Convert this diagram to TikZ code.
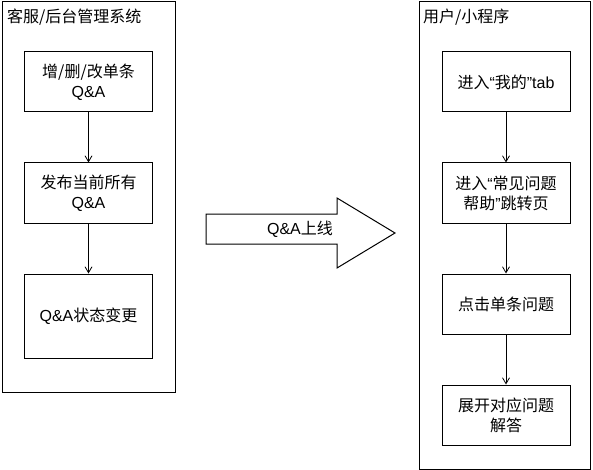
\documentclass[tikz,border=0pt]{standalone}
\usepackage{fontspec}
\setmainfont{Liberation Sans}
\newfontfamily\zhfont{Noto Sans CJK SC}
\newcommand{\zh}[1]{{\zhfont #1}}
\usetikzlibrary{arrows.meta,positioning}

\begin{document}
\begin{tikzpicture}[
    x=1pt, y=-1pt,
    every node/.style={font=\fontsize{16}{20}\selectfont},
    panel/.style={draw, line width=1pt},
    title/.style={anchor=west, inner sep=0pt},
    block/.style={draw, line width=1pt, align=center, minimum width=128pt,
                  minimum height=60pt, inner sep=2pt},
    flow/.style={draw, line width=0.8pt, -{Straight Barb[length=6pt,width=7pt,line width=0.8pt]}}
  ]
    \useasboundingbox (0,0) rectangle (593,470);

    % two panels
    \draw[panel] (2,2) rectangle (175,392);
    \draw[panel] (419,2) rectangle (590,469);
    \node[title] (admin) at (7,17) {\zh{客服/后台管理系统}};
    \node[title] (user) at (423,17) {\zh{用户/小程序}};

    % admin side
    \node[block] (edit) at (88.5,82) {\zh{增/删/改单条}\\Q\&A};
    \node[block] (publish) at (88.5,193) {\zh{发布当前所有}\\Q\&A};
    \node[block, minimum height=84pt] (status) at (88.5,316) {Q\&A\zh{状态变更}};

    % user side
    \node[block] (mine) at (506,82) {\zh{进入}“\zh{我的}”tab};
    \node[block] (faq) at (506,193) {\zh{进入}“\zh{常见问题}\\\zh{帮助}”\zh{跳转页}};
    \node[block] (click) at (506,304) {\zh{点击单条问题}};
    \node[block] (answer) at (506,415) {\zh{展开对应问题}\\\zh{解答}};

    \draw[flow] (edit) -- (publish);
    \draw[flow] (publish) -- (status);
    \draw[flow] (mine) -- (faq);
    \draw[flow] (faq) -- (click);
    \draw[flow] (click) -- (answer);

    % big arrow
    \draw[line width=1pt] (206,214) -- (337,214) -- (337,198) -- (395,233)
      -- (337,268) -- (337,244) -- (206,244) -- cycle;
    \node (golive) at (300,229) {Q\&A\zh{上线}};
\end{tikzpicture}
\end{document}
